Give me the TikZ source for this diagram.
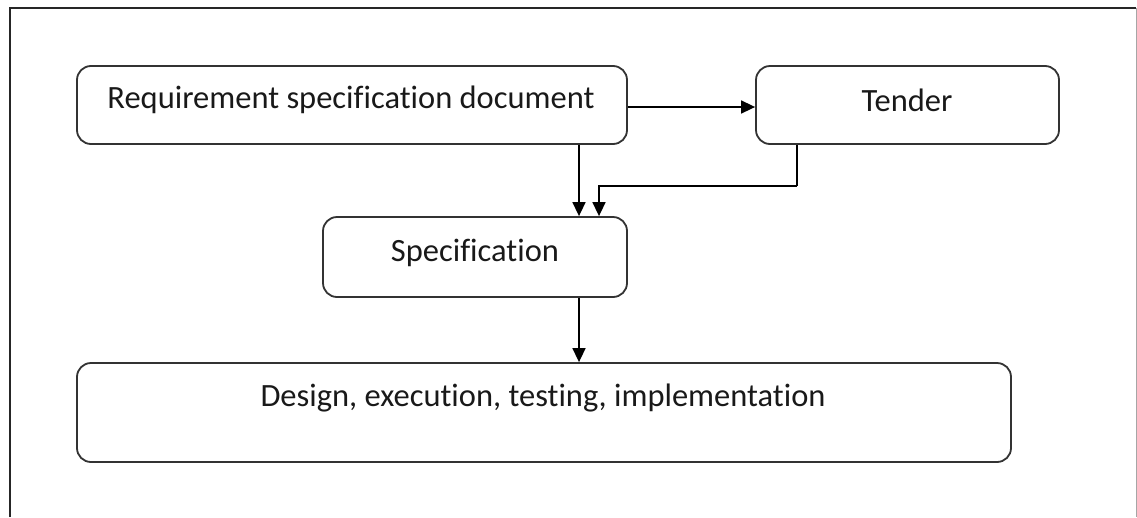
\documentclass[tikz,border=0pt]{standalone}
\usepackage{fontspec}
\setmainfont[Ligatures=NoCommon]{Carlito}
\usetikzlibrary{arrows.meta}
\begin{document}
\begin{tikzpicture}[x=1pt,y=-1pt,
  box/.style={draw=black!80,line width=1.8pt,rounded corners=14pt,inner sep=0pt},
  lbl/.style={font=\fontsize{32.5}{36}\selectfont,text=black!90},
  conn/.style={line width=1.6pt,-{Triangle[length=14pt,width=13pt]}}]
\useasboundingbox (0,0) rectangle (1137,517);
\draw[line width=1.6pt,black!85] (10,517) -- (10,8) -- (1136,8);
\draw[line width=1pt,black!35] (1136,8) -- (1136,517);
\node[box,minimum width=550pt,minimum height=78pt] (req) at (352,105) {};
\node[lbl] at (351,100) {Requirement specification document};
\node[box,minimum width=303pt,minimum height=78pt] (ten) at (907.5,105) {};
\node[lbl] at (907,100) {Tender};
\node[box,minimum width=304pt,minimum height=80pt] (spec) at (475,257) {};
\node[lbl] at (475,253) {Specification};
\node[box,minimum width=934pt,minimum height=99pt] (des) at (544,412.5) {};
\node[lbl] at (543,398) {Design, execution, testing, implementation};
\coordinate (bend) at (797,186);
\draw[conn] (req.east |- 0,107) -- (ten.west |- 0,107);
\draw[conn] (req.south -| 579,0) -- (spec.north -| 579,0);
\draw[conn,-] (ten.south -| bend) -- (bend);
\draw[conn] (bend) -| (spec.north -| 599,0);
\draw[conn] (spec.south -| 579,0) -- (des.north -| 579,0);
\end{tikzpicture}
\end{document}
